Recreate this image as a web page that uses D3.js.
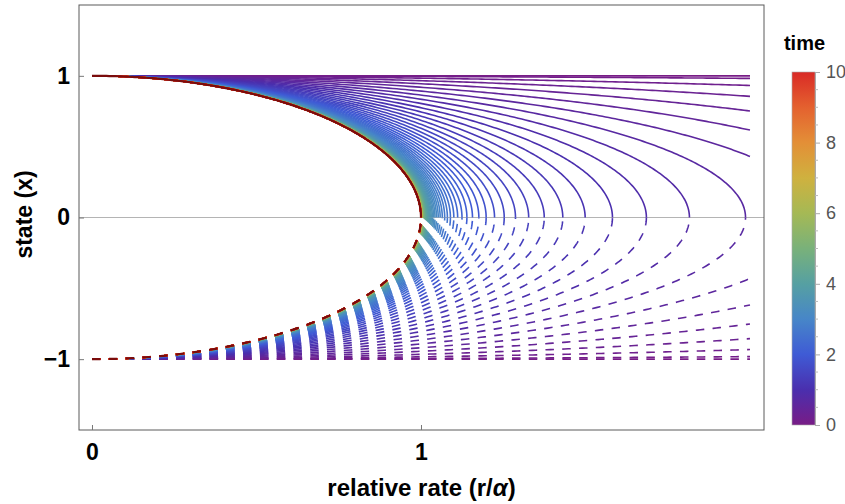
<!DOCTYPE html>
<html>
<head>
<meta charset="utf-8">
<script src="https://cdn.jsdelivr.net/npm/d3@7"></script>
<style>
  body { margin: 0; background: #fff; }
  text { font-family: "Liberation Sans", Arial, sans-serif; }
</style>
</head>
<body>
<div id="chart-area"></div>
<script>

// time values of the plotted curves (colour = time)
const timeSamples = [
  0, 0.1, 0.2, 0.3, 0.4, 0.5, 0.6, 0.7, 0.8, 0.9,
  1, 1.1, 1.2, 1.3, 1.4, 1.5, 1.6, 1.7, 1.8, 1.9,
  2, 2.1, 2.2, 2.3, 2.4, 2.5, 2.6, 2.7, 2.8, 2.9,
  3, 3.1, 3.2, 3.3, 3.4, 3.5, 3.6, 3.7, 3.8, 3.9,
  4, 4.1, 4.2, 4.3, 4.4, 4.5, 4.6, 4.7, 4.8, 4.9,
  5, 5.1, 5.2, 5.3, 5.4, 5.5, 5.6, 5.7, 5.8, 5.9,
  6, 6.1, 6.2, 6.3, 6.4, 6.5, 6.6, 6.7, 6.8, 6.9,
  7, 7.1, 7.2, 7.3, 7.4, 7.5, 7.6, 7.7, 7.8, 7.9,
  8, 8.1, 8.2, 8.3, 8.4, 8.5, 8.6, 8.7, 8.8, 8.9,
  9, 9.1, 9.2, 9.3, 9.4, 9.5, 9.6, 9.7, 9.8, 9.9,
  10
];

const xTicks = [0, 1];
const yTicks = [-1, 0, 1];
const colorTicks = [0, 2, 4, 6, 8, 10];
const colorMinorTicks = [0.5, 1, 1.5, 2.5, 3, 3.5, 4.5, 5, 5.5, 6.5, 7, 7.5, 8.5, 9, 9.5];

// colour scale
const rainbowTimes = [0, 1, 2, 3, 4, 5, 6, 7, 8, 9, 10];
const rainbowColors = ['#781c86', '#4a2fae', '#3f5bd5', '#4786c8', '#56a0a2', '#79b17a',
                       '#a5b955', '#cfb13f', '#e38f37', '#e4612f', '#d92a26'];

const rateMax = 2;
const equilibriumRate = 1;

// curve at time t crosses x = 0 at r = 1 / (1 - e^-t)
// (matches the crossings read at 1.99, 1.82, 1.69, 1.58, 1.50, 1.43 ...)
const crossingRate = t => t === 0 ? Infinity : 1 / (1 - Math.exp(-t));

const widthSvg = 845;
const heightSvg = 504;
const margin = { top: 5, right: 81, bottom: 74, left: 79 };

const scaleX = d3.scaleLinear()
  .domain([-0.0395, 2.0426])
  .range([margin.left, widthSvg - margin.right]);

const scaleY = d3.scaleLinear()
  .domain([-1.5, 1.5])
  .range([heightSvg - margin.bottom, margin.top]);

const scaleColor = d3.scaleLinear()
  .domain(rainbowTimes)
  .range(rainbowColors)
  .interpolate(d3.interpolateRgb);

const branchPoints = (R, sign) => {
  if (!isFinite(R)) return [[0, sign], [rateMax, sign]];
  const thetaMax = R > rateMax ? Math.asin(rateMax / R) : Math.PI / 2;
  return d3.range(0, 181).map(i => {
    const th = thetaMax * i / 180;
    return [R * Math.sin(th), sign * Math.cos(th)];
  });
};

const line = d3.line()
  .x(d => scaleX(d[0]))
  .y(d => scaleY(d[1]));

const svg = d3.select('#chart-area')
  .append('svg')
    .attr('width', widthSvg)
    .attr('height', heightSvg)
    .style('display', 'block');

svg.append('rect')
  .attr('width', widthSvg)
  .attr('height', heightSvg)
  .attr('fill', '#fff');

// zero line
svg.append('line')
  .attr('x1', scaleX.range()[0])
  .attr('x2', scaleX.range()[1])
  .attr('y1', scaleY(0))
  .attr('y2', scaleY(0))
  .attr('stroke', '#b4b4b4')
  .attr('stroke-width', 1);

const curves = svg.append('g')
  .attr('fill', 'none')
  .attr('stroke-width', 1.6);

timeSamples.forEach(t => {
  const R = crossingRate(t);
  curves.append('path')
    .attr('d', line(branchPoints(R, 1)))
    .attr('stroke', scaleColor(t));
  curves.append('path')
    .attr('d', line(branchPoints(R, -1)))
    .attr('stroke', scaleColor(t))
    .attr('stroke-dasharray', '8.5,8.3');
});

// equilibrium (t -> infinity)
curves.append('path')
  .attr('d', line(branchPoints(equilibriumRate, 1)))
  .attr('stroke', '#7a0c0c')
  .attr('stroke-width', 2.2);
curves.append('path')
  .attr('d', line(branchPoints(equilibriumRate, -1)))
  .attr('stroke', '#7a0c0c')
  .attr('stroke-width', 2.2)
  .attr('stroke-dasharray', '8.5,8.3');

// frame
svg.append('rect')
  .attr('x', scaleX.range()[0])
  .attr('y', scaleY.range()[1])
  .attr('width', scaleX.range()[1] - scaleX.range()[0])
  .attr('height', scaleY.range()[0] - scaleY.range()[1])
  .attr('fill', 'none')
  .attr('stroke', '#5a5a5a')
  .attr('stroke-width', 1);

const axisX = d3.axisBottom(scaleX)
  .tickValues(xTicks)
  .tickSize(-5)
  .tickPadding(14)
  .tickFormat(d3.format('d'));

const axisY = d3.axisLeft(scaleY)
  .tickValues(yTicks)
  .tickSize(-5)
  .tickPadding(9)
  .tickFormat(d3.format('d'));

const groupAxisX = svg.append('g')
  .attr('transform', `translate(0, ${scaleY.range()[0]})`)
  .call(axisX);

const groupAxisY = svg.append('g')
  .attr('transform', `translate(${scaleX.range()[0]}, 0)`)
  .call(axisY);

[groupAxisX, groupAxisY].forEach(g => {
  g.select('.domain').remove();
  g.selectAll('line').attr('stroke', '#777');
  g.selectAll('text')
    .attr('font-family', '"Liberation Sans", Arial, sans-serif')
    .attr('font-size', 23)
    .attr('font-weight', 'bold')
    .attr('fill', '#000');
});

svg.append('text')
  .attr('x', (scaleX.range()[0] + scaleX.range()[1]) / 2)
  .attr('y', 496)
  .attr('text-anchor', 'middle')
  .attr('font-size', 24)
  .attr('font-weight', 'bold')
  .html('relative rate (r/<tspan font-style="italic">α</tspan>)');

svg.append('text')
  .attr('transform', `translate(32, ${scaleY(0) - 3}) rotate(-90)`)
  .attr('text-anchor', 'middle')
  .attr('font-size', 23)
  .attr('font-weight', 'bold')
  .text('state (x)');

// colour legend
const legendX = 792;
const legendW = 23;
const scaleLegend = d3.scaleLinear()
  .domain([0, 10])
  .range([425, 72]);

const grad = svg.append('defs').append('linearGradient')
  .attr('id', 'rainbow')
  .attr('x1', 0).attr('y1', 1)
  .attr('x2', 0).attr('y2', 0);

grad.selectAll('stop')
  .data(rainbowTimes)
  .enter()
  .append('stop')
    .attr('offset', d => d / 10)
    .attr('stop-color', d => scaleColor(d));

svg.append('rect')
  .attr('x', legendX)
  .attr('y', scaleLegend(10))
  .attr('width', legendW)
  .attr('height', scaleLegend(0) - scaleLegend(10))
  .attr('fill', 'url(#rainbow)')
  .attr('stroke', '#aaa')
  .attr('stroke-width', 0.6);

const axisLegend = d3.axisRight(scaleLegend)
  .tickValues(colorTicks)
  .tickSize(5)
  .tickPadding(6)
  .tickFormat(d3.format('d'));

const groupLegend = svg.append('g')
  .attr('transform', `translate(${legendX + legendW}, 0)`)
  .call(axisLegend);

groupLegend.select('.domain').attr('stroke', '#aaa');
groupLegend.selectAll('line').attr('stroke', '#aaa');
groupLegend.selectAll('text')
  .attr('font-family', '"Liberation Sans", Arial, sans-serif')
  .attr('font-size', 18)
  .attr('fill', '#555');

groupLegend.selectAll('.minor')
  .data(colorMinorTicks)
  .enter()
  .append('line')
    .attr('class', 'minor')
    .attr('x1', 0)
    .attr('x2', 3)
    .attr('y1', d => scaleLegend(d))
    .attr('y2', d => scaleLegend(d))
    .attr('stroke', '#bbb');

svg.append('text')
  .attr('x', legendX + legendW / 2 + 1)
  .attr('y', 50)
  .attr('text-anchor', 'middle')
  .attr('font-size', 20)
  .attr('font-weight', 'bold')
  .text('time');

</script>
</body>
</html>
